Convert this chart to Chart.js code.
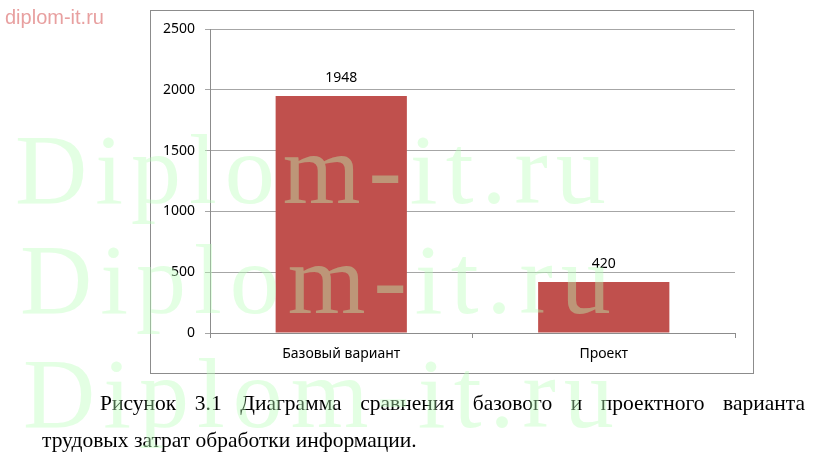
<!DOCTYPE html>
<html>
<head>
<meta charset="utf-8">
<script src="https://cdn.jsdelivr.net/npm/chart.js@4.4.0/dist/chart.umd.min.js"></script>
<style>
  html, body { margin: 0; padding: 0; background: #fff; }
  canvas { display: block; }
</style>
</head>
<body>
<canvas id="chart" width="835" height="460"></canvas>
<script>
// ================= DATA =================

const categories = ["Базовый вариант", "Проект"];
const values = [1948, 420];
const yTicks = [0, 500, 1000, 1500, 2000, 2500];

const captionLine1 = ["Рисунок", "3.1", "Диаграмма", "сравнения", "базового", "и", "проектного", "варианта"];
const captionLine2 = "трудовых затрат обработки информации.";
const siteLabel = "diplom-it.ru";
const watermarkText = "Diplom-it.ru";

// ================= PAGE DECOR =================

const pageDecor = {
  id: "pageDecor",
  beforeDraw(chart) {
    const ctx = chart.ctx;
    ctx.save();
    ctx.fillStyle = "#fff";
    ctx.fillRect(0, 0, chart.width, chart.height);

    // chart frame
    ctx.strokeStyle = "#8c8c8c";
    ctx.lineWidth = 1;
    ctx.strokeRect(150.5, 10.5, 603, 363);

    // site label top-left
    ctx.fillStyle = "#e8a0a0";
    ctx.font = "20px 'Liberation Sans', Arial, sans-serif";
    ctx.textBaseline = "alphabetic";
    ctx.fillText(siteLabel, 5, 24);

    // caption, first line justified
    ctx.fillStyle = "#000";
    ctx.font = "21.5px 'Liberation Serif', 'Times New Roman', serif";
    const left = 100, right = 805;
    const widths = captionLine1.map(w => ctx.measureText(w).width);
    const total = widths.reduce((a, b) => a + b, 0);
    const gap = (right - left - total) / (captionLine1.length - 1);
    let x = left;
    captionLine1.forEach((w, i) => {
      ctx.fillText(w, x, 410);
      x += widths[i] + gap;
    });
    ctx.fillText(captionLine2, 42, 447);
    ctx.restore();
  },
  afterDatasetsDraw(chart) {
    const ctx = chart.ctx;
    const meta = chart.getDatasetMeta(0);
    ctx.save();
    ctx.fillStyle = "#000";
    ctx.font = "14px 'Noto Sans', sans-serif";
    ctx.textAlign = "center";
    ctx.textBaseline = "middle";
    meta.data.forEach((bar, i) => {
      ctx.fillText(String(values[i]), bar.x, bar.y - 18);
    });
    ctx.restore();
  },
  afterDraw(chart) {
    // watermark over everything
    const ctx = chart.ctx;
    ctx.save();
    ctx.globalAlpha = 0.4;
    ctx.fillStyle = "rgb(185,255,185)";
    ctx.font = "100px 'Liberation Serif', 'Times New Roman', serif";
    ctx.textBaseline = "alphabetic";
    const rows = [[15, 203], [20, 313], [23, 427]];
    rows.forEach(([x0, y0]) => {
      let x = x0;
      for (const ch of watermarkText) {
        ctx.fillText(ch, x, y0);
        x += ctx.measureText(ch).width + 8;
      }
    });
    ctx.restore();
  }
};

// ================= CHART =================

new Chart(document.getElementById("chart"), {
  type: "bar",
  data: {
    labels: categories,
    datasets: [{
      data: values,
      backgroundColor: "#c0504d",
      borderWidth: 0,
      barPercentage: 1,
      categoryPercentage: 0.5
    }]
  },
  options: {
    responsive: false,
    animation: false,
    devicePixelRatio: 1,
    layout: { padding: { left: 150, top: 29, right: 100, bottom: 0 } },
    plugins: {
      legend: { display: false },
      tooltip: { enabled: false }
    },
    scales: {
      x: {
        grid: {
          drawOnChartArea: false,
          tickLength: 5,
          color: "#8c8c8c"
        },
        border: { color: "#8c8c8c" },
        ticks: {
          color: "#000",
          padding: 8,
          font: { family: "'Noto Sans', sans-serif", size: 14 }
        },
        afterFit(scale) { scale.height = 127; }
      },
      y: {
        min: yTicks[0],
        max: yTicks[yTicks.length - 1],
        grid: {
          color: "#a6a6a6",
          tickLength: 5
        },
        border: { color: "#8c8c8c" },
        ticks: {
          stepSize: yTicks[1] - yTicks[0],
          color: "#000",
          padding: 10,
          font: { family: "'Noto Sans', sans-serif", size: 14 },
          callback: v => String(v)
        },
        afterFit(scale) { scale.width = 60; }
      }
    }
  },
  plugins: [pageDecor]
});
</script>
</body>
</html>
